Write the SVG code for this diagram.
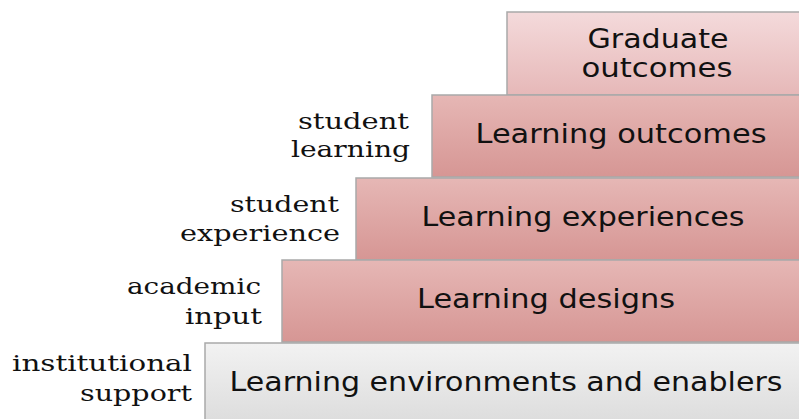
<svg xmlns="http://www.w3.org/2000/svg" width="799" height="419" viewBox="0 0 799 419">
  <defs>
    <linearGradient id="pinkLight" x1="0" y1="0" x2="0" y2="1">
      <stop offset="0" stop-color="#f4dadb"/>
      <stop offset="1" stop-color="#e6b8b8"/>
    </linearGradient>
    <linearGradient id="pink" x1="0" y1="0" x2="0" y2="1">
      <stop offset="0" stop-color="#e6b7b5"/>
      <stop offset="1" stop-color="#d69694"/>
    </linearGradient>
    <linearGradient id="grey" x1="0" y1="0" x2="0" y2="1">
      <stop offset="0" stop-color="#f2f2f2"/>
      <stop offset="1" stop-color="#dcdcdc"/>
    </linearGradient>
  </defs>
  <style>
    .step { stroke: #a9a9a9; stroke-width: 1.5; }
    .box-text { font-family: "DejaVu Sans", "Verdana", sans-serif; font-size: 26px; fill: #111; text-anchor: middle; }
    .side { font-family: "DejaVu Serif", "Liberation Serif", serif; font-size: 23px; fill: #111; text-anchor: end; }
  </style>
  <rect width="799" height="419" fill="#ffffff"/>

  <g id="graduate-outcomes">
    <rect class="step" x="507" y="12" width="300" height="83" fill="url(#pinkLight)"/>
    <text class="box-text" x="658" y="48" textLength="141" lengthAdjust="spacingAndGlyphs">Graduate</text>
    <text class="box-text" x="657" y="77" textLength="151" lengthAdjust="spacingAndGlyphs">outcomes</text>
  </g>

  <g id="learning-outcomes">
    <rect class="step" x="432" y="95" width="380" height="82" fill="url(#pink)"/>
    <text class="box-text" x="621" y="143" textLength="291" lengthAdjust="spacingAndGlyphs">Learning outcomes</text>
    <text class="side" x="409" y="129" textLength="111" lengthAdjust="spacingAndGlyphs">student</text>
    <text class="side" x="410" y="157" textLength="119" lengthAdjust="spacingAndGlyphs">learning</text>
  </g>

  <g id="learning-experiences">
    <rect class="step" x="356" y="178" width="460" height="82" fill="url(#pink)"/>
    <text class="box-text" x="583" y="226" textLength="323" lengthAdjust="spacingAndGlyphs">Learning experiences</text>
    <text class="side" x="339" y="212" textLength="109" lengthAdjust="spacingAndGlyphs">student</text>
    <text class="side" x="340" y="241" textLength="160" lengthAdjust="spacingAndGlyphs">experience</text>
  </g>

  <g id="learning-designs">
    <rect class="step" x="282" y="260" width="540" height="82" fill="url(#pink)"/>
    <text class="box-text" x="546" y="308" textLength="258" lengthAdjust="spacingAndGlyphs">Learning designs</text>
    <text class="side" x="261" y="294" textLength="134" lengthAdjust="spacingAndGlyphs">academic</text>
    <text class="side" x="262" y="324" textLength="77" lengthAdjust="spacingAndGlyphs">input</text>
  </g>

  <g id="learning-environments">
    <rect class="step" x="205" y="343" width="620" height="82" fill="url(#grey)"/>
    <text class="box-text" x="506" y="391" textLength="553" lengthAdjust="spacingAndGlyphs">Learning environments and enablers</text>
    <text class="side" x="192" y="371" textLength="180" lengthAdjust="spacingAndGlyphs">institutional</text>
    <text class="side" x="192" y="401" textLength="112" lengthAdjust="spacingAndGlyphs">support</text>
  </g>

  <g id="connectors"/>
</svg>
